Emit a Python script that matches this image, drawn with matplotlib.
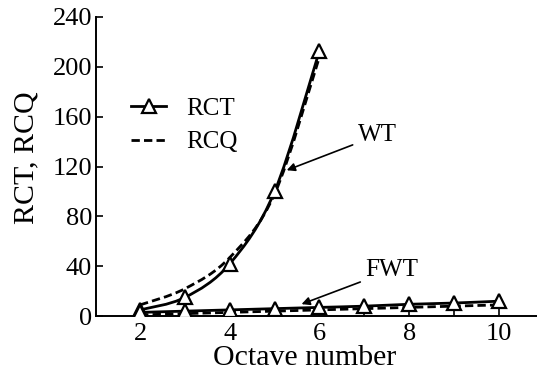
import numpy as np
import matplotlib
matplotlib.use("Agg")
import matplotlib.pyplot as plt
from matplotlib.path import Path
from matplotlib.patches import PathPatch
from matplotlib.lines import Line2D

plt.rcParams['font.family'] = ['Liberation Serif', 'DejaVu Serif']

# WT: octaves 2..6
wt_oct = [2, 3, 4, 5, 6]
wt_rct = [5, 15, 42, 100, 213]
wt_rcq = [9, 22, 47, 98, 208]

# FWT: octaves 2..10
fwt_oct = [2, 3, 4, 5, 6, 7, 8, 9, 10]
fwt_rct = [3, 4, 5, 6, 7, 8, 9.5, 10.5, 12]
fwt_rcq = [1, 2, 3, 4, 5, 6, 7, 8, 9]


def smooth_path(x, y):
    # Catmull-Rom curve through the points, expressed as cubic Beziers
    x = np.asarray(x, float)
    y = np.asarray(y, float)
    pts = np.column_stack([x, y])
    verts = [pts[0]]
    codes = [Path.MOVETO]
    n = len(pts)
    for i in range(n - 1):
        p0 = pts[i - 1] if i > 0 else pts[i]
        p1 = pts[i]
        p2 = pts[i + 1]
        p3 = pts[i + 2] if i + 2 < n else pts[i + 1]
        c1 = p1 + (p2 - p0) / 6.0
        c2 = p2 - (p3 - p1) / 6.0
        verts += [c1, c2, p2]
        codes += [Path.CURVE4] * 3
    return Path(verts, codes)


def draw_curve(ax, x, y, ls, marker):
    ax.add_patch(PathPatch(smooth_path(x, y), fill=False, ec='black',
                           lw=2.0, ls=ls, capstyle='butt'))
    if marker:
        ax.plot(x, y, ls='none', marker='^', ms=10, mfc='white',
                mec='black', mew=1.6, zorder=3)


fig = plt.figure(figsize=(5.37, 3.75), dpi=100)
ax = fig.add_axes([0.179, 0.157, 0.821, 0.798])

draw_curve(ax, wt_oct, wt_rcq, (0, (3, 1.5)), False)
draw_curve(ax, fwt_oct, fwt_rcq, (0, (3, 1.5)), False)
draw_curve(ax, wt_oct, wt_rct, '-', True)
draw_curve(ax, fwt_oct, fwt_rct, '-', True)

ax.set_xlim(1.02, 10.85)
ax.set_ylim(0, 240)
ax.set_xticks([2, 4, 6, 8, 10])
ax.set_xticks([3, 5, 7, 9], minor=True)
ax.set_yticks(np.arange(0, 241, 40))
ax.tick_params(direction='in', labelsize=19, length=5, width=1.2)
ax.tick_params(axis='x', pad=5)
ax.tick_params(axis='y', pad=3)
ax.tick_params(which='minor', direction='in', length=5, width=1.2)
for side in ['top', 'right']:
    ax.spines[side].set_visible(False)
for side in ['left', 'bottom']:
    ax.spines[side].set_linewidth(1.4)

ax.set_xlabel('Octave number', fontsize=21.5)
ax.set_ylabel('RCT, RCQ', fontsize=21.5)
ax.xaxis.set_label_coords(0.474, -0.097)
ax.yaxis.set_label_coords(-0.158, 0.531)
ax.yaxis.label.set_va('center')

handles = [
    Line2D([], [], color='black', lw=2.0, marker='^', ms=10, mfc='white',
           mec='black', mew=1.6),
    Line2D([], [], color='black', lw=2.0, ls=(0, (3, 1.5))),
]
ax.legend(handles, ['RCT', 'RCQ'], loc='upper left',
          bbox_to_anchor=(0.04, 0.79), frameon=False, fontsize=18,
          handlelength=1.4, handletextpad=0.8, labelspacing=0.45,
          borderpad=0.2)

ax.annotate('WT', xy=(5.27, 117), xytext=(6.86, 145), fontsize=18,
            va='center', ha='left',
            arrowprops=dict(arrowstyle='-|>', color='black', lw=1.2,
                            shrinkA=2, shrinkB=0, mutation_scale=12))
ax.annotate('FWT', xy=(5.6, 9.6), xytext=(7.03, 37), fontsize=18,
            va='center', ha='left',
            arrowprops=dict(arrowstyle='-|>', color='black', lw=1.2,
                            shrinkA=2, shrinkB=0, mutation_scale=12))

fig.savefig('out.png', dpi=100)
